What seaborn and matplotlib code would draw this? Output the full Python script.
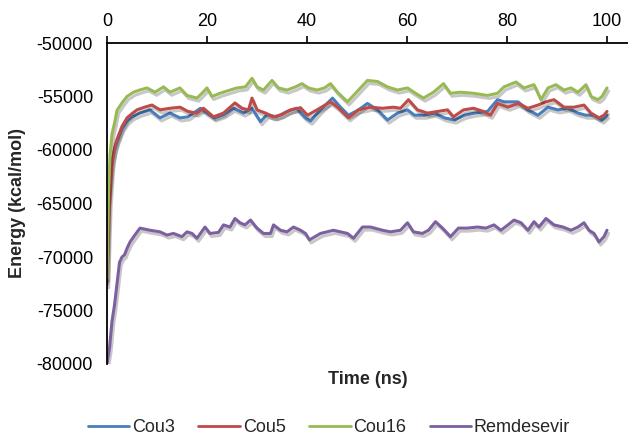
import pandas as pd
import matplotlib.pyplot as plt
import matplotlib.patheffects as pe
import seaborn as sns

# Time (ns) and energy (kcal/mol), one pair of lists per compound
cou3_t = [0, 0.5, 1, 1.5, 2, 3, 4, 5, 6.6, 8.6, 10.6, 12.6, 14.6, 16.2, 18.7, 20, 21.5, 23.3, 25.3, 27.3,
          29, 30.7, 32, 33.9, 36, 37.9, 39.7, 40.7, 42.2, 45.1, 46.7, 48.3, 50.3, 52.1, 54.1, 56.1, 58.1, 60.1,
          61.5, 63.5, 65.5, 67.5, 69.5, 71.5, 73.5, 76.1, 78.1, 79.4, 82.2, 84.2, 86.2, 88.2, 90.2, 92.2, 94.2,
          95.8, 97.4, 99, 100]
cou3_e = [-66000, -63500, -61000, -60000, -59200, -58000, -57300, -56900, -56550, -56250,
          -57000, -56550, -57000, -56900, -56100, -56550, -57000, -56700, -56100, -56550,
          -56100, -57350, -56700, -56900, -56400, -56100, -57000, -57300, -56500, -55150,
          -56000, -56750, -56250, -55650, -56250, -57200, -56550, -56250, -56750, -56750,
          -56550, -57000, -57200, -56750, -56550, -56400, -55300, -55500, -55500, -56250,
          -56750, -56000, -56250, -56100, -56550, -56750, -56750, -57200, -56750]

cou5_t = [0, 0.5, 1, 1.5, 2, 3, 4, 5, 6, 7.5, 9, 10.6, 12.6, 14.6, 16.2, 18, 19.3, 21.3, 23.3, 25.6,
          27, 28.3, 29, 30, 31.7, 33.3, 35, 36.7, 38.7, 40.1, 42, 44.7, 46.1, 48.3, 50.3, 52.7, 55.1, 57.3,
          58.7, 60.3, 62.1, 64.1, 66.1, 68.1, 69.3, 71.3, 73.3, 75.3, 76.7, 78.1, 80.2, 82.2, 84.2, 86.2,
          87.8, 89.4, 91.4, 93.4, 95.4, 96.8, 98.4, 99.4, 100]
cou5_e = [-72600, -65000, -61500, -59800, -59000, -57800, -57000, -56600, -56250, -56000,
          -55800, -56250, -56100, -56000, -56400, -56550, -56100, -56900, -56550, -55600,
          -56100, -56250, -55150, -56250, -56550, -56900, -56700, -56250, -56050, -56750,
          -56250, -55500, -56000, -57000, -56250, -56000, -56100, -56000, -56100, -55300,
          -56250, -56550, -56400, -56250, -56900, -56250, -56100, -56400, -56750, -55650,
          -56000, -55650, -56100, -55800, -55500, -55300, -56000, -56000, -55800, -56550,
          -57000, -56750, -56400]

cou16_t = [0, 0.3, 0.6, 1, 1.5, 2, 3, 4, 5.3, 6.5, 8, 9.6, 11.3, 12.6, 14.6, 16, 18, 19, 20, 21,
           22.6, 24.6, 26, 27.7, 29, 30, 31.3, 33, 34.3, 36, 37.7, 39, 40.3, 42, 43.5, 44.7, 46.1, 48.1,
           49.3, 50.7, 52.1, 54.1, 56.1, 58.1, 60.1, 61.7, 63.3, 65.3, 67.3, 68.7, 70.7, 73.3, 76.1, 78.1,
           79.4, 81.8, 83.4, 85.4, 86.8, 88.2, 89.8, 91.4, 92.8, 94.2, 95.8, 96.8, 98.2, 99, 100]
cou16_e = [-72000, -64000, -60500, -58500, -57500, -56300, -55600, -55000,
           -54600, -54400, -54200, -54600, -54100, -54600, -54200, -54900, -55150, -54700,
           -54200, -55000, -54700, -54400, -54200, -54100, -53300, -54100, -54400, -53500,
           -54200, -54400, -54100, -53800, -54200, -54400, -54200, -53800, -54600, -55500,
           -54900, -54200, -53500, -53600, -54100, -54400, -54200, -54700, -55150, -54600,
           -53800, -54700, -54600, -54700, -54900, -54700, -54100, -53650, -54200, -53900,
           -55300, -54200, -53900, -54400, -54200, -54600, -53900, -55000, -55300, -55000,
           -54200]

remd_t = [0, 0.5, 1, 1.5, 2, 2.5, 3, 3.5, 4, 4.6, 5.5, 6.6, 8.6, 10.6, 12, 13.3, 15, 16, 17, 18,
          19.6, 20.6, 22.3, 23.3, 24.6, 25.6, 26.6, 27.6, 28.7, 30, 31.3, 32.7, 33.3, 34.7, 36, 37.3,
          38.7, 39.7, 40.5, 42.7, 45.3, 48.1, 49.3, 51.1, 52.7, 55.1, 56.7, 58.7, 60.1, 61.3, 63.1,
          64.3, 65.7, 67.1, 68.7, 70.3, 72.1, 74.1, 75.8, 77.4, 78.8, 80.2, 81.4, 82.8, 84.2, 85.4,
          86.4, 87.8, 89.4, 91.2, 92.8, 94.2, 95.4, 96.4, 97.4, 98.4, 99.4, 100]
remd_e = [-80000, -78500, -76000, -74500, -72500, -70500, -70000, -69800, -69200, -68600,
          -68000, -67300, -67500, -67650, -67950, -67800, -68100, -67650, -67800, -68250,
          -67200, -67800, -67700, -67000, -67200, -66400, -66800, -67000, -66550, -67300,
          -67800, -67800, -67000, -67500, -67650, -67200, -67500, -67800, -68400, -67800,
          -67500, -67800, -68250, -67200, -67200, -67500, -67650, -67500, -66800, -67650,
          -67800, -67500, -66700, -67300, -68100, -67300, -67300, -67200, -67300, -67000,
          -67500, -67000, -66550, -66800, -67500, -66700, -67200, -66400, -67000, -67200,
          -67500, -67200, -66800, -67500, -67800, -68600, -68100, -67500]

names = ['Cou3', 'Cou5', 'Cou16', 'Remdesevir']
colors = ['#4a7ebb', '#be4b48', '#98b954', '#7d60a0']
x_ticks = [0, 20, 40, 60, 80, 100]
y_ticks = [-80000, -75000, -70000, -65000, -60000, -55000, -50000]

frames = []
for name, t, e in zip(names, [cou3_t, cou5_t, cou16_t, remd_t], [cou3_e, cou5_e, cou16_e, remd_e]):
    frames.append(pd.DataFrame({'Time': t, 'Energy': e, 'Compound': name}))
df = pd.concat(frames, ignore_index=True)

sns.set_style('white')
plt.rcParams['font.family'] = ['Liberation Sans', 'DejaVu Sans']
plt.rcParams['axes.unicode_minus'] = False

fig = plt.figure(figsize=(6.28, 4.37), dpi=100)
ax = fig.add_axes([107 / 628, 73 / 437, 521 / 628, 321 / 437])

sns.lineplot(data=df, x='Time', y='Energy', hue='Compound', hue_order=names,
             palette=colors, estimator=None, sort=False, linewidth=2.2, ax=ax)

handles, labels = ax.get_legend_handles_labels()
ax.get_legend().remove()

# soft grey drop shadow like the original spreadsheet chart
for line in ax.lines:
    line.set_path_effects([pe.SimpleLineShadow(offset=(1.2, -2.2), alpha=0.22, shadow_color='black'),
                           pe.Normal()])

ax.set_xlim(0, 104.2)
ax.set_ylim(-80000, -50000)
ax.set_xticks(x_ticks)
ax.set_yticks(y_ticks)
ax.xaxis.tick_top()
ax.xaxis.set_label_position('bottom')
ax.tick_params(axis='both', labelsize=13, length=5, width=1.2, colors='black', direction='out')
ax.tick_params(axis='x', pad=4)
ax.tick_params(axis='y', pad=5)

for side in ['right', 'bottom']:
    ax.spines[side].set_visible(False)
for side in ['top', 'left']:
    ax.spines[side].set_color('black')
    ax.spines[side].set_linewidth(1.3)

ax.set_xlabel('Time (ns)', fontsize=13, fontweight='bold', labelpad=5)
ax.set_ylabel('Energy (kcal/mol)', fontsize=13, fontweight='bold', labelpad=8)

for h in handles:
    h.set_linewidth(2)
    h.set_path_effects([])
fig.legend(handles, labels, loc='center', bbox_to_anchor=(329 / 628, 1 - 428 / 437), ncol=4,
           frameon=False, fontsize=13, handlelength=2.3, handletextpad=0.15, columnspacing=1.3)

plt.savefig('out.png', dpi=100)
plt.close()
